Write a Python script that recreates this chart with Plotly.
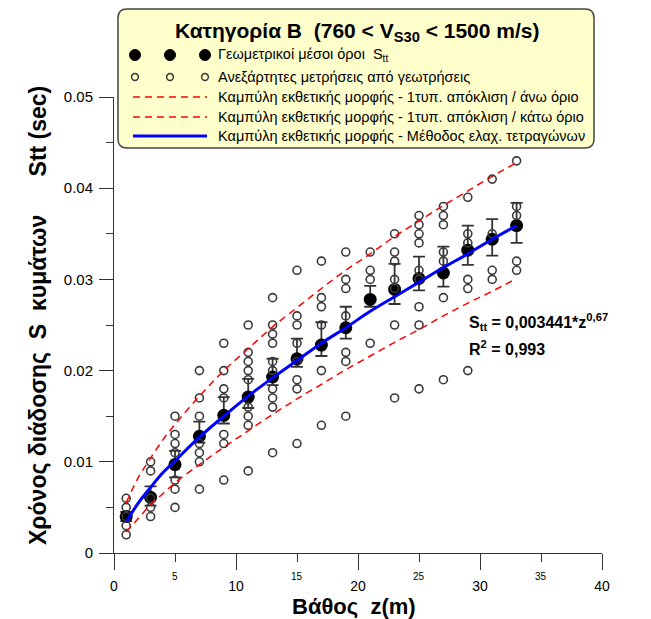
import numpy as np
import plotly.graph_objects as go

# ---------------- data ----------------
depths = [1, 3, 5, 7, 9, 11, 13, 15, 17, 19, 21, 23, 25, 27, 29, 31, 33]
geo_mean = [0.0040, 0.0061, 0.0097, 0.0128, 0.0151, 0.0171, 0.0193, 0.0213, 0.0228,
            0.0247, 0.0278, 0.0289, 0.0301, 0.0307, 0.0332, 0.0344, 0.0359]
geo_upper = [0.0045, 0.0073, 0.0112, 0.0144, 0.0171, 0.0191, 0.0213, 0.0235, 0.0253,
             0.0270, 0.0293, 0.0317, 0.0325, 0.0336, 0.0359, 0.0366, 0.0384]
geo_lower = [0.0035, 0.0052, 0.0083, 0.0121, 0.0142, 0.0159, 0.0184, 0.0204, 0.0216,
             0.0235, 0.0270, 0.0273, 0.0288, 0.0292, 0.0316, 0.0326, 0.0340]

obs_values = [
    [0.006, 0.005, 0.004, 0.003, 0.002],
    [0.010, 0.009, 0.006, 0.005, 0.004],
    [0.015, 0.013, 0.012, 0.011, 0.008, 0.007, 0.005],
    [0.020, 0.017, 0.015, 0.012, 0.011, 0.010, 0.007],
    [0.023, 0.020, 0.018, 0.017, 0.013, 0.012, 0.008],
    [0.025, 0.022, 0.021, 0.020, 0.019, 0.016, 0.015, 0.014, 0.009],
    [0.028, 0.025, 0.024, 0.023, 0.021, 0.020, 0.018, 0.017, 0.016, 0.011],
    [0.031, 0.026, 0.025, 0.023, 0.021, 0.019, 0.018, 0.012],
    [0.032, 0.028, 0.027, 0.025, 0.020, 0.014],
    [0.033, 0.030, 0.029, 0.026, 0.022, 0.021, 0.015],
    [0.033, 0.031, 0.030, 0.023],
    [0.035, 0.033, 0.032, 0.030, 0.029, 0.025, 0.017],
    [0.037, 0.036, 0.035, 0.034, 0.031, 0.030, 0.027, 0.025, 0.018],
    [0.038, 0.037, 0.036, 0.033, 0.032, 0.028, 0.019],
    [0.039, 0.035, 0.034, 0.030, 0.029, 0.020],
    [0.041, 0.035, 0.031, 0.030],
    [0.043, 0.038, 0.037, 0.032, 0.031],
]

curve_z = [1, 2, 3, 4, 5, 7, 9, 11, 13, 15, 17, 19, 21, 23, 25, 27, 29, 31, 33]
fit_curve = [0.0034, 0.0055, 0.0072, 0.0088, 0.0101, 0.0127, 0.0150, 0.0172, 0.0192, 0.0211,
             0.0230, 0.0247, 0.0265, 0.0281, 0.0297, 0.0313, 0.0328, 0.0344, 0.0359]
upper_curve = [0.0055, 0.0083, 0.0104, 0.0124, 0.0141, 0.0172, 0.0200, 0.0224, 0.0248, 0.0269,
               0.0290, 0.0310, 0.0328, 0.0347, 0.0364, 0.0381, 0.0397, 0.0413, 0.0428]
lower_curve = [0.0023, 0.0038, 0.0053, 0.0065, 0.0077, 0.0097, 0.0116, 0.0134, 0.0152, 0.0169,
               0.0185, 0.0201, 0.0216, 0.0231, 0.0245, 0.0260, 0.0274, 0.0287, 0.0301]

x_major_ticks = [0, 10, 20, 30, 40]
x_minor_ticks = [5, 15, 25, 35]
x_minor_labels = ["5", "15", "25", "35"]
y_ticks = [0, 0.01, 0.02, 0.03, 0.04, 0.05]
y_tick_labels = ["0", "0.01", "0.02", "0.03", "0.04", "0.05"]

legend_title = "Κατηγορία Β\u00a0\u00a0(760 &lt; V<sub>S30</sub> &lt; 1500 m/s)"
legend_labels = [
    "Γεωμετρικοί μέσοι όροι\u00a0\u00a0S<sub>tt</sub>",
    "Ανεξάρτητες μετρήσεις από γεωτρήσεις",
    "Καμπύλη εκθετικής μορφής - 1τυπ. απόκλιση / άνω όριο",
    "Καμπύλη εκθετικής μορφής - 1τυπ. απόκλιση / κάτω όριο",
    "Καμπύλη εκθετικής μορφής - Μέθοδος ελαχ. τετραγώνων",
]
x_title = "Βάθος\u00a0\u00a0z(m)"
y_title = ("Χρόνος διάδοσης\u00a0\u00a0S\u00a0\u00a0κυμάτων"
           "\u00a0\u00a0\u00a0\u00a0\u00a0\u00a0Stt (sec)")
eq_line1 = "S<sub>tt</sub> = 0,003441*z<sup>0,67</sup>"
eq_line2 = "R<sup>2</sup> = 0,993"

# ---------------- layout geometry ----------------
W, H = 651, 619
ML, MR, MT, MB = 114, 49, 97, 66
PW, PH = W - ML - MR, H - MT - MB
FONT = "Liberation Sans, Arial, sans-serif"


def px(xp):
    return (xp - ML) / PW


def py(yp):
    return (H - MB - yp) / PH


obs_x, obs_y = [], []
for z, vals in zip(depths, obs_values):
    obs_x += [z] * len(vals)
    obs_y += vals

gm = np.array(geo_mean)
err_plus = np.array(geo_upper) - gm
err_minus = gm - np.array(geo_lower)

fig = go.Figure()
fig.add_trace(go.Scatter(
    x=depths, y=geo_mean, mode="markers",
    marker=dict(color="black", size=13),
    error_y=dict(type="data", symmetric=False, array=err_plus, arrayminus=err_minus,
                 color="#333333", thickness=1.8, width=6),
))
fig.add_trace(go.Scatter(
    x=obs_x, y=obs_y, mode="markers",
    marker=dict(symbol="circle-open", size=8, color="#3a3a3a", line=dict(width=1.6)),
))
for yy in (upper_curve, lower_curve):
    fig.add_trace(go.Scatter(
        x=curve_z, y=yy, mode="lines", line_shape="spline",
        line=dict(color="#FF0000", width=1.5, dash="7px,5px"),
    ))
fig.add_trace(go.Scatter(
    x=curve_z, y=fit_curve, mode="lines", line_shape="spline",
    line=dict(color="#0000FF", width=3),
))

shapes = []
# legend box with rounded corners
x0, x1, y0, y1 = px(118), px(594), py(148), py(9)
rx, ry = 9 / PW, 9 / PH
path = (f"M {x0+rx},{y0} L {x1-rx},{y0} Q {x1},{y0} {x1},{y0+ry} "
        f"L {x1},{y1-ry} Q {x1},{y1} {x1-rx},{y1} L {x0+rx},{y1} Q {x0},{y1} {x0},{y1-ry} "
        f"L {x0},{y0+ry} Q {x0},{y0} {x0+rx},{y0} Z")
shapes.append(dict(type="path", path=path, xref="paper", yref="paper",
                   fillcolor="#FFFFCC", line=dict(color="#444444", width=1.5), layer="above"))

row_y = [55, 77, 97, 117, 136]
sym_x = [135, 170, 205]
for cx in sym_x:
    r = 5.5
    shapes.append(dict(type="circle", xref="paper", yref="paper",
                       x0=px(cx - r), x1=px(cx + r), y0=py(row_y[0] + r), y1=py(row_y[0] - r),
                       fillcolor="black", line=dict(color="black", width=1), layer="above"))
    r = 3.4
    shapes.append(dict(type="circle", xref="paper", yref="paper",
                       x0=px(cx - r), x1=px(cx + r), y0=py(row_y[1] + r), y1=py(row_y[1] - r),
                       fillcolor="rgba(0,0,0,0)", line=dict(color="#3a3a3a", width=1.5), layer="above"))
for ry_, col, dash, wd in [(row_y[2], "#FF0000", "7px,5px", 1.5),
                           (row_y[3], "#FF0000", "7px,5px", 1.5),
                           (row_y[4], "#0000FF", "solid", 3)]:
    shapes.append(dict(type="line", xref="paper", yref="paper",
                       x0=px(133), x1=px(207), y0=py(ry_), y1=py(ry_),
                       line=dict(color=col, width=wd, dash=dash), layer="above"))

annotations = []
annotations.append(dict(text=f"<b>{legend_title}</b>", xref="paper", yref="paper",
                        x=px(357), y=py(32), xanchor="center", yanchor="middle",
                        showarrow=False, font=dict(family=FONT, size=21, color="black")))
for lab, ry_ in zip(legend_labels, row_y):
    annotations.append(dict(text=lab, xref="paper", yref="paper", x=px(216), y=py(ry_),
                            xanchor="left", yanchor="middle", showarrow=False,
                            font=dict(family=FONT, size=14.5, color="black")))
for v, lab in zip(x_minor_ticks, x_minor_labels):
    annotations.append(dict(text=lab, xref="x", yref="paper", x=v, y=py(576),
                            xanchor="center", yanchor="middle", showarrow=False,
                            font=dict(family=FONT, size=10, color="black")))
annotations.append(dict(text=f"<b>{x_title}</b>", xref="paper", yref="paper",
                        x=px(354), y=py(606), xanchor="center", yanchor="middle",
                        showarrow=False, font=dict(family=FONT, size=22, color="black")))
annotations.append(dict(text=f"<b>{y_title}</b>", xref="paper", yref="paper",
                        x=px(38), y=py(316), xanchor="center", yanchor="middle", textangle=-90,
                        showarrow=False, font=dict(family=FONT, size=23, color="black")))
annotations.append(dict(text=f"<b>{eq_line1}</b>", xref="paper", yref="paper",
                        x=px(467), y=py(322), xanchor="left", yanchor="middle",
                        showarrow=False, font=dict(family=FONT, size=16, color="black")))
annotations.append(dict(text=f"<b>{eq_line2}</b>", xref="paper", yref="paper",
                        x=px(467), y=py(348), xanchor="left", yanchor="middle",
                        showarrow=False, font=dict(family=FONT, size=16, color="black")))

fig.update_layout(
    width=W, height=H, margin=dict(l=ML, r=MR, t=MT, b=MB, pad=0),
    plot_bgcolor="white", paper_bgcolor="white", showlegend=False,
    font=dict(family=FONT, color="black"),
    shapes=shapes, annotations=annotations,
    xaxis=dict(range=[0, 40], tickvals=x_major_ticks, ticks="outside", ticklen=16,
               tickwidth=1, tickcolor="#333333", showline=True, linecolor="#333333",
               linewidth=1, showgrid=False, zeroline=False, ticklabelstandoff=4,
               tickfont=dict(family=FONT, size=14, color="black"),
               minor=dict(tickvals=x_minor_ticks, ticks="outside", ticklen=8,
                          tickcolor="#333333", tickwidth=1, showgrid=False)),
    yaxis=dict(range=[0, 0.05], tickvals=y_ticks, ticktext=y_tick_labels, ticks="outside",
               ticklen=14, tickwidth=1, tickcolor="#333333", showline=True,
               linecolor="#333333", linewidth=1, showgrid=False, zeroline=False,
               ticklabelstandoff=3,
               tickfont=dict(family=FONT, size=15, color="black"),
               minor=dict(dtick=0.005, ticks="outside", ticklen=7, tickcolor="#333333",
                          tickwidth=1, showgrid=False)),
)

fig.write_html("out.html")
